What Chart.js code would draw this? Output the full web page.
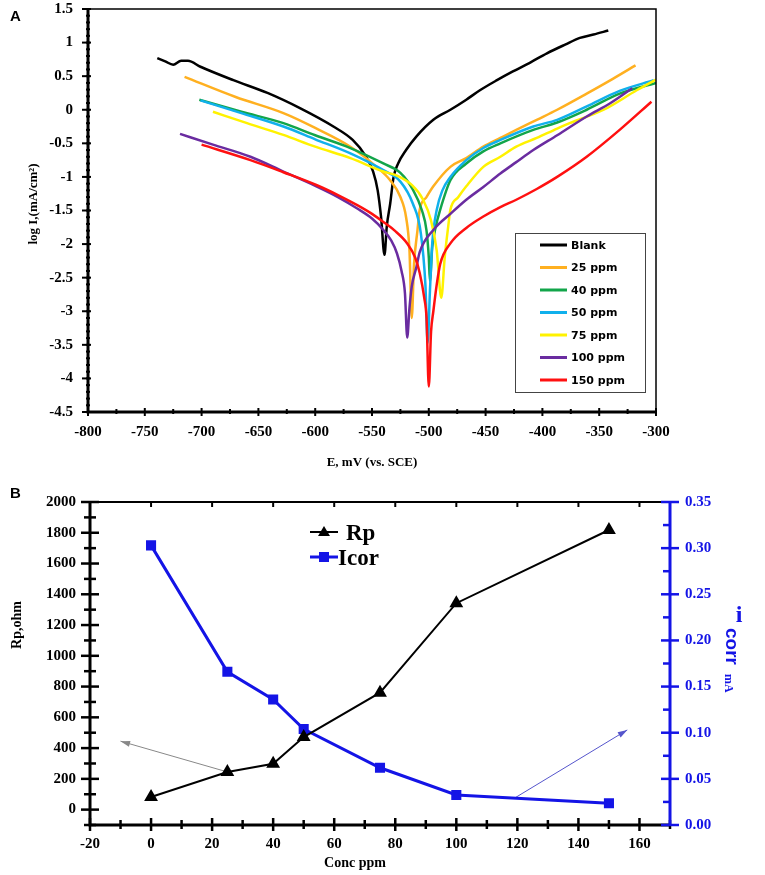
<!DOCTYPE html>
<html>
<head>
<meta charset="utf-8">
<script src="https://cdn.jsdelivr.net/npm/chart.js@4.4.0/dist/chart.umd.min.js"></script>
<style>
  body { margin: 0; background: #fff; width: 765px; height: 875px; overflow: hidden; position: relative; }
  #wrapA { position: absolute; left: 0; top: 0; width: 765px; height: 475px; }
  #wrapB { position: absolute; left: 0; top: 470px; width: 765px; height: 405px; }
</style>
</head>
<body>
<div id="wrapA"><canvas id="chartA"></canvas></div>
<div id="wrapB"><canvas id="chartB"></canvas></div>
<script>
// ---- panel A : Tafel curves ----
const seriesNames = ['Blank', '25 ppm', '40 ppm', '50 ppm', '75 ppm', '100 ppm', '150 ppm'];
const seriesColors = ['#000000', '#FFB020', '#12A54A', '#10B0EC', '#FFF200', '#6A2CA0', '#FF1010'];

const blankE = [-739,-732,-725,-718,-712,-701,-672,-642,-613,-584,-567,-556,-549,-545,-542,-539,-537,-534,-531,-527,-520,-511,-496,-481,-467,-455,-440,-426,-410,-396,-380,-367,-355,-342];
const blankLog = [0.77,0.72,0.67,0.73,0.73,0.64,0.44,0.25,0.02,-0.25,-0.45,-0.68,-0.92,-1.2,-1.6,-2.16,-1.74,-1.40,-1.0,-0.80,-0.60,-0.40,-0.15,0.0,0.15,0.29,0.44,0.57,0.71,0.84,0.97,1.07,1.12,1.18];

const ppm25E = [-715,-670,-628,-600,-569,-546,-534,-525,-520,-517,-515,-513,-510,-508,-502,-496,-481,-467,-452,-437,-423,-405,-387,-361,-338,-318];
const ppm25Log = [0.49,0.19,-0.05,-0.27,-0.55,-0.85,-1.05,-1.3,-1.6,-2.1,-3.1,-2.3,-1.8,-1.49,-1.3,-1.14,-0.85,-0.72,-0.55,-0.42,-0.30,-0.15,0.0,0.24,0.46,0.66];

const ppm40E = [-702,-665,-628,-600,-569,-540,-525,-514,-506,-502,-500,-499,-497,-494,-490,-481,-467,-452,-437,-408,-387,-361,-332,-300];
const ppm40Log = [0.15,-0.03,-0.20,-0.38,-0.57,-0.80,-0.94,-1.19,-1.5,-1.8,-2.2,-2.55,-2.05,-1.75,-1.49,-1.05,-0.80,-0.62,-0.50,-0.30,-0.19,0.0,0.24,0.40];

const ppm50E = [-701,-665,-628,-600,-569,-540,-525,-514,-507,-503,-501,-499,-497,-493,-488,-481,-467,-452,-437,-408,-387,-361,-332,-302];
const ppm50Log = [0.14,-0.05,-0.25,-0.44,-0.65,-0.90,-1.07,-1.40,-1.84,-2.6,-3.47,-2.7,-2.0,-1.49,-1.2,-1.0,-0.75,-0.57,-0.45,-0.25,-0.15,0.05,0.28,0.44];

const ppm75E = [-690,-660,-628,-600,-569,-540,-528,-515,-505,-498,-493,-489,-486,-483,-481,-474,-467,-452,-437,-423,-405,-387,-376,-346,-317,-300];
const ppm75Log = [-0.03,-0.20,-0.375,-0.55,-0.72,-0.92,-0.98,-1.12,-1.34,-1.65,-2.1,-2.8,-2.2,-1.75,-1.49,-1.3,-1.14,-0.85,-0.70,-0.55,-0.42,-0.28,-0.20,0.0,0.29,0.45];

const ppm100E = [-719,-690,-657,-628,-599,-580,-563,-550,-540,-533,-528,-524,-521,-519,-517,-515,-511,-508,-496,-481,-467,-452,-437,-423,-408,-387,-361,-340,-321];
const ppm100Log = [-0.36,-0.52,-0.70,-0.92,-1.14,-1.30,-1.47,-1.62,-1.79,-1.95,-2.14,-2.4,-2.73,-3.39,-2.95,-2.63,-2.35,-2.12,-1.79,-1.55,-1.34,-1.15,-0.95,-0.78,-0.60,-0.38,-0.10,0.10,0.32];

const ppm150E = [-700,-657,-628,-599,-580,-563,-550,-540,-530,-519,-512,-508,-504,-502,-500,-498,-496,-493,-490,-481,-467,-452,-437,-423,-405,-387,-361,-332,-304];
const ppm150Log = [-0.52,-0.75,-0.93,-1.12,-1.27,-1.42,-1.55,-1.67,-1.80,-1.99,-2.2,-2.43,-2.8,-3.1,-4.12,-3.3,-3.0,-2.6,-2.30,-1.99,-1.76,-1.59,-1.45,-1.34,-1.18,-1.0,-0.70,-0.30,0.12];

const curvesE = [blankE, ppm25E, ppm40E, ppm50E, ppm75E, ppm100E, ppm150E];
const curvesLog = [blankLog, ppm25Log, ppm40Log, ppm50Log, ppm75Log, ppm100Log, ppm150Log];

const xTicksA = [-800,-750,-700,-650,-600,-550,-500,-450,-400,-350,-300];
const yTicksA = [-4.5,-4,-3.5,-3,-2.5,-2,-1.5,-1,-0.5,0,0.5,1,1.5];

// ---- panel B : Rp and Icorr vs concentration ----
const conc = [0, 25, 40, 50, 75, 100, 150];
const rpValues = [82, 245, 298, 472, 760, 1342, 1818];
const icorValues = [0.303, 0.166, 0.136, 0.104, 0.062, 0.0325, 0.0235];
const rpArrowX = [25, -10];
const rpArrowY = [245, 445];
const icorArrowX = [119, 156];
const icorArrowY = [0.029, 0.103];

const xTicksB = [-20,0,20,40,60,80,100,120,140,160];
const yTicksB = [0,200,400,600,800,1000,1200,1400,1600,1800,2000];
const y1TicksB = [0,0.05,0.10,0.15,0.20,0.25,0.30,0.35];

const serifBold = (size) => ({ family: "'Liberation Serif', 'Times New Roman', serif", weight: 'bold', size: size });
const fontStr = (size, fam) => 'bold ' + size + 'px ' + (fam || "'Liberation Serif', serif");

function range(a, b, step) {
  const out = [];
  for (let v = a; v <= b + step / 1000; v += step) out.push(+v.toFixed(4));
  return out;
}

// fixed box sizes, no extra label overflow padding
function fixBox(w, h) {
  return s => {
    if (w) s.width = w;
    if (h) s.height = h;
    s.paddingTop = 0; s.paddingBottom = 0; s.paddingLeft = 0; s.paddingRight = 0;
  };
}

// tick marks drawn by hand so they can cross the axis line
function ticksX(ctx, scale, yPos, values, up, down) {
  values.forEach(v => {
    const px = scale.getPixelForValue(v);
    ctx.beginPath(); ctx.moveTo(px, yPos - up); ctx.lineTo(px, yPos + down); ctx.stroke();
  });
}
function ticksY(ctx, scale, xPos, values, left, right) {
  values.forEach(v => {
    const py = scale.getPixelForValue(v);
    ctx.beginPath(); ctx.moveTo(xPos - left, py); ctx.lineTo(xPos + right, py); ctx.stroke();
  });
}

const frameA = {
  id: 'frameA',
  afterDraw(chart) {
    const { ctx, chartArea: a, scales: { x, y } } = chart;
    ctx.save();
    ctx.strokeStyle = '#000';
    ctx.lineWidth = 1.5;
    ctx.strokeRect(a.left, a.top, a.right - a.left, a.bottom - a.top);
    ctx.lineWidth = 3;
    ctx.beginPath(); ctx.moveTo(a.left, a.top); ctx.lineTo(a.left, a.bottom); ctx.lineTo(a.right, a.bottom); ctx.stroke();
    ctx.lineWidth = 2;
    ticksY(ctx, y, a.left, yTicksA, 6, 3);
    ticksY(ctx, y, a.left, range(-4.5, 1.5, 0.1), 2, 2);
    ticksX(ctx, x, a.bottom, xTicksA, 4, 4);
    ticksX(ctx, x, a.bottom, range(-775, -325, 50), 3, 2);

    // legend box
    ctx.lineWidth = 1;
    ctx.strokeStyle = '#444';
    ctx.strokeRect(515.5, 233.5, 130, 159);
    ctx.font = fontStr(11, "'DejaVu Sans', sans-serif");
    ctx.textBaseline = 'middle';
    ctx.fillStyle = '#000';
    seriesNames.forEach((n, i) => {
      const yy = 245 + i * 22.5;
      ctx.strokeStyle = seriesColors[i];
      ctx.lineWidth = 3;
      ctx.beginPath(); ctx.moveTo(540, yy); ctx.lineTo(567, yy); ctx.stroke();
      ctx.fillText(n, 571, yy + 1);
    });

    // titles
    ctx.fillStyle = '#000';
    ctx.font = fontStr(15, "'Liberation Sans', Arial, sans-serif");
    ctx.textBaseline = 'middle';
    ctx.textAlign = 'left';
    ctx.fillText('A', 10, 17);
    ctx.font = fontStr(13);
    ctx.textAlign = 'center';
    ctx.fillText('E, mV (vs. SCE)', 372, 463);
    ctx.save();
    ctx.translate(34, 204);
    ctx.rotate(-Math.PI / 2);
    ctx.fillText('log I,(mA/cm\u00B2)', 0, 0);
    ctx.restore();
    ctx.restore();
  }
};

new Chart(document.getElementById('chartA'), {
  type: 'line',
  data: {
    datasets: seriesNames.map((n, i) => ({
      label: n,
      data: curvesE[i].map((e, j) => ({ x: e, y: curvesLog[i][j] })),
      borderColor: seriesColors[i],
      borderWidth: 2.5,
      pointRadius: 0,
      cubicInterpolationMode: 'monotone',
      order: 6 - i
    }))
  },
  options: {
    animation: false,
    responsive: true,
    maintainAspectRatio: false,
    layout: { padding: { top: 9, right: 109, left: 0, bottom: 0 } },
    plugins: { legend: { display: false }, tooltip: { enabled: false } },
    scales: {
      x: {
        type: 'linear', min: -800, max: -300,
        afterFit: fixBox(0, 63),
        afterBuildTicks: s => { s.ticks = xTicksA.map(v => ({ value: v })); },
        grid: { display: false, drawTicks: false },
        border: { display: false },
        ticks: { padding: 11, color: '#000', font: serifBold(15), maxRotation: 0, autoSkip: false }
      },
      y: {
        type: 'linear', min: -4.5, max: 1.5,
        afterFit: fixBox(88, 0),
        afterBuildTicks: s => { s.ticks = yTicksA.map(v => ({ value: v })); },
        grid: { display: false, drawTicks: false },
        border: { display: false },
        ticks: { padding: 15, color: '#000', font: serifBold(15), autoSkip: false, callback: v => String(v) }
      }
    }
  },
  plugins: [frameA]
});

// ---- panel B ----
const blue = '#1414E6';

const frameB = {
  id: 'frameB',
  afterDraw(chart) {
    const { ctx, chartArea: a, scales: { x, y, y1 } } = chart;
    ctx.save();
    ctx.strokeStyle = '#000';
    ctx.lineWidth = 2;
    ctx.beginPath(); ctx.moveTo(a.left, a.top); ctx.lineTo(a.right, a.top); ctx.stroke();
    ticksX(ctx, x, a.top, range(0, 160, 20), 0, 5);
    ctx.lineWidth = 3;
    ctx.beginPath(); ctx.moveTo(a.left, a.top); ctx.lineTo(a.left, a.bottom); ctx.lineTo(a.right, a.bottom); ctx.stroke();
    ctx.lineWidth = 2.5;
    ticksY(ctx, y, a.left, yTicksB, 9, 9);
    ticksY(ctx, y, a.left, range(-100, 1900, 200), 6, 6);
    ticksX(ctx, x, a.bottom, xTicksB, 7, 6);
    ticksX(ctx, x, a.bottom, range(-10, 170, 20), 5, 4);
    // right axis in blue
    ctx.strokeStyle = blue;
    ctx.lineWidth = 3;
    ctx.beginPath(); ctx.moveTo(a.right, a.top); ctx.lineTo(a.right, a.bottom); ctx.stroke();
    ctx.lineWidth = 2.5;
    ticksY(ctx, y1, a.right, y1TicksB, 9, 9);
    ticksY(ctx, y1, a.right, range(0.025, 0.325, 0.05), 7, 0);

    // arrowheads at the end of the pointer lines
    [[rpArrowX, rpArrowY, 'y', '#888888'], [icorArrowX, icorArrowY, 'y1', '#5555cc']].forEach(([ax, ay, id, col]) => {
      const sc = chart.scales[id];
      const x0 = x.getPixelForValue(ax[0]), y0 = sc.getPixelForValue(ay[0]);
      const x1 = x.getPixelForValue(ax[1]), y1p = sc.getPixelForValue(ay[1]);
      const ang = Math.atan2(y1p - y0, x1 - x0);
      ctx.fillStyle = col;
      ctx.beginPath();
      ctx.moveTo(x1, y1p);
      ctx.lineTo(x1 - 10 * Math.cos(ang - 0.3), y1p - 10 * Math.sin(ang - 0.3));
      ctx.lineTo(x1 - 10 * Math.cos(ang + 0.3), y1p - 10 * Math.sin(ang + 0.3));
      ctx.closePath(); ctx.fill();
    });

    // legend inside plot
    ctx.lineWidth = 2;
    ctx.strokeStyle = '#000';
    ctx.beginPath(); ctx.moveTo(310, 62); ctx.lineTo(338, 62); ctx.stroke();
    ctx.fillStyle = '#000';
    ctx.beginPath(); ctx.moveTo(324, 56); ctx.lineTo(330, 66); ctx.lineTo(318, 66); ctx.closePath(); ctx.fill();
    ctx.font = fontStr(23);
    ctx.textBaseline = 'alphabetic';
    ctx.textAlign = 'left';
    ctx.fillText('Rp', 346, 70);
    ctx.strokeStyle = blue;
    ctx.lineWidth = 3;
    ctx.beginPath(); ctx.moveTo(310, 87); ctx.lineTo(338, 87); ctx.stroke();
    ctx.fillStyle = blue;
    ctx.fillRect(319, 82, 10, 10);
    ctx.fillStyle = '#000';
    ctx.fillText('Icor', 338, 95);

    // titles
    ctx.font = fontStr(15, "'Liberation Sans', Arial, sans-serif");
    ctx.textBaseline = 'middle';
    ctx.fillText('B', 10, 24);
    ctx.font = fontStr(14);
    ctx.textAlign = 'center';
    ctx.fillText('Conc ppm', 355, 393);
    ctx.save();
    ctx.translate(17, 155);
    ctx.rotate(-Math.PI / 2);
    ctx.fillText('Rp,ohm', 0, 0);
    ctx.restore();

    ctx.fillStyle = blue;
    ctx.font = fontStr(24);
    ctx.fillText('i', 739, 146);
    ctx.save();
    ctx.translate(731, 158);
    ctx.rotate(Math.PI / 2);
    ctx.textAlign = 'left';
    ctx.font = fontStr(19, "'Liberation Sans', Arial, sans-serif");
    ctx.fillText('corr', 0, 0);
    ctx.font = fontStr(12);
    ctx.fillText('mA', 46, 3);
    ctx.restore();
    ctx.restore();
  }
};

new Chart(document.getElementById('chartB'), {
  type: 'line',
  data: {
    datasets: [
      {
        label: 'Rp', yAxisID: 'y',
        data: conc.map((c, i) => ({ x: c, y: rpValues[i] })),
        borderColor: '#000', backgroundColor: '#000', borderWidth: 2,
        pointStyle: 'triangle', pointRadius: 6, tension: 0
      },
      {
        label: 'Icor', yAxisID: 'y1',
        data: conc.map((c, i) => ({ x: c, y: icorValues[i] })),
        borderColor: blue, backgroundColor: blue, borderWidth: 3,
        pointStyle: 'rect', pointRadius: 5, tension: 0
      },
      {
        label: 'rp pointer', yAxisID: 'y',
        data: rpArrowX.map((v, i) => ({ x: v, y: rpArrowY[i] })),
        borderColor: '#888888', borderWidth: 1, pointRadius: 0
      },
      {
        label: 'icor pointer', yAxisID: 'y1',
        data: icorArrowX.map((v, i) => ({ x: v, y: icorArrowY[i] })),
        borderColor: '#5555cc', borderWidth: 1, pointRadius: 0
      }
    ]
  },
  options: {
    animation: false,
    responsive: true,
    maintainAspectRatio: false,
    layout: { padding: { top: 32, right: 0, left: 0, bottom: 0 } },
    plugins: { legend: { display: false }, tooltip: { enabled: false } },
    scales: {
      x: {
        type: 'linear', min: -20, max: 170,
        afterFit: fixBox(0, 50),
        afterBuildTicks: s => { s.ticks = xTicksB.map(v => ({ value: v })); },
        grid: { display: false, drawTicks: false },
        border: { display: false },
        ticks: { padding: 10, color: '#000', font: serifBold(15), maxRotation: 0, autoSkip: false }
      },
      y: {
        type: 'linear', position: 'left', min: -100, max: 2000,
        afterFit: fixBox(90, 0),
        afterBuildTicks: s => { s.ticks = yTicksB.map(v => ({ value: v })); },
        grid: { display: false, drawTicks: false },
        border: { display: false },
        ticks: { padding: 14, color: '#000', font: serifBold(15), autoSkip: false, callback: v => String(v) }
      },
      y1: {
        type: 'linear', position: 'right', min: 0, max: 0.35,
        afterFit: fixBox(95, 0),
        afterBuildTicks: s => { s.ticks = y1TicksB.map(v => ({ value: v })); },
        grid: { display: false, drawTicks: false },
        border: { display: false },
        ticks: { padding: 15, color: blue, font: serifBold(15), autoSkip: false, callback: v => v.toFixed(2) }
      }
    }
  },
  plugins: [frameB]
});
</script>
</body>
</html>
